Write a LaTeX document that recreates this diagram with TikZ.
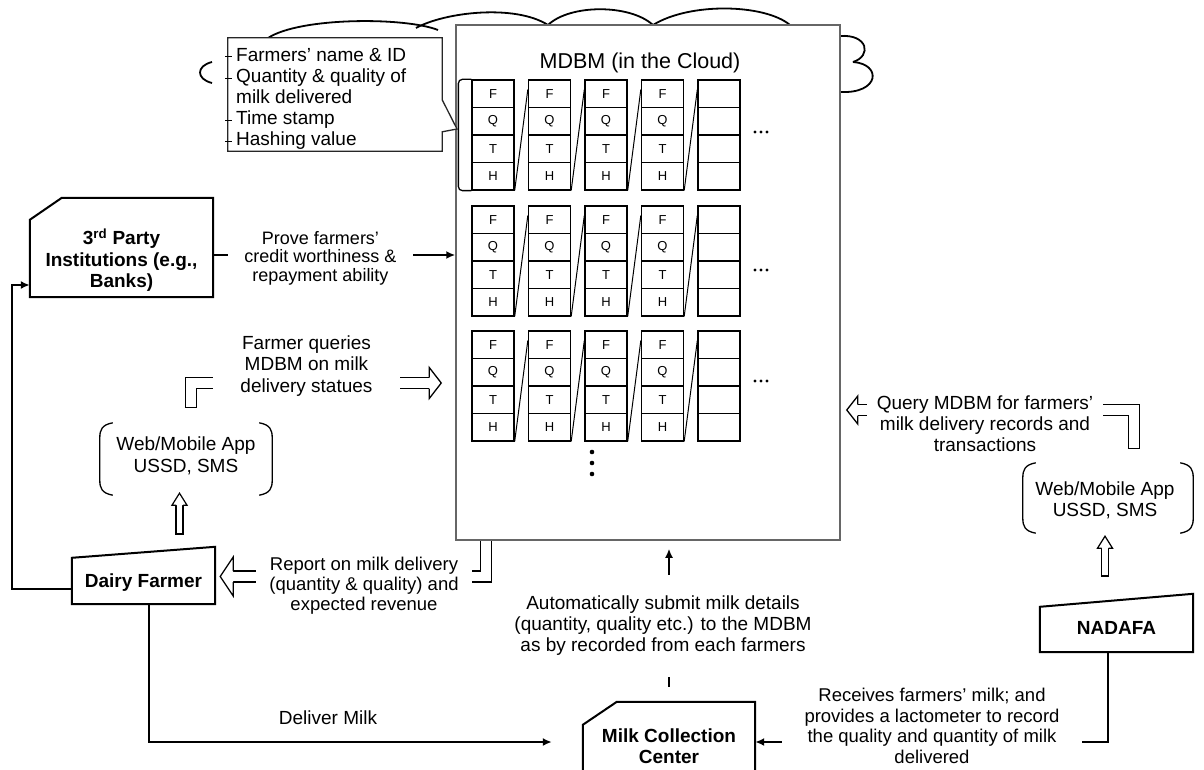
\documentclass[tikz,border=0pt]{standalone}
\usepackage{fontspec}
\setmainfont{Liberation Sans}
\usetikzlibrary{arrows.meta,calc}
\pgfdeclarelayer{back}
\pgfdeclarelayer{mid}
\pgfsetlayers{back,mid,main}
\newcommand\fsz[2]{\fontsize{#1}{#2}\selectfont}
% horizontal block-arrow head: tip, length (+ points left), half width, shaft half
\newcommand\headH[4]{\draw[blk,fill=white] ($(#1)+(#2,-#4)$) -- ($(#1)+(#2,-#3)$) -- (#1) -- ($(#1)+(#2,#3)$) -- ($(#1)+(#2,#4)$);}
% vertical block-arrow head (pointing up)
\newcommand\headV[4]{\draw[line width=1.2,fill=white] ($(#1)+(-#4,#2)$) -- ($(#1)+(-#3,#2)$) -- (#1) -- ($(#1)+(#3,#2)$) -- ($(#1)+(#4,#2)$);}
\begin{document}
\begin{tikzpicture}[x=1pt,y=-1pt,line join=miter,
  box/.style={line width=2,fill=white},
  conn/.style={line width=2},
  tipA/.style={-{Latex[length=9pt,width=8pt]}},
  blk/.style={line width=1.3},
  dbl/.style={blk,double=white,double distance=9.7},
  sdbl/.style={line width=1.2,double=white,double distance=5.8},
  lbl/.style={fill=white,align=center,inner xsep=0,inner ysep=3},
  btxt/.style={align=center,font=\bfseries\fsz{19}{21.5}},
  area/.style={inner sep=0},
  cell/.style={draw,line width=1.3,minimum width=42,minimum height=27.5,inner sep=0,font=\fsz{13}{13}},
  cloudline/.style={line width=1.8}]
\useasboundingbox (0,0) rectangle (1204,770);

% ---------- cloud ----------
\begin{pgfonlayer}{back}
\draw[cloudline] (212,62) .. controls (196,66) and (196,79) .. (212,83);
\draw[cloudline] (268,38) .. controls (300,17) and (405,17) .. (438,30);
\draw[cloudline] (416,28) .. controls (445,12) and (515,4) .. (548,25);
\draw[cloudline] (548,25) .. controls (570,4) and (630,4) .. (653,25);
\draw[cloudline] (653,25) .. controls (690,2) and (765,4) .. (790,25);
\draw[cloudline] (840,36) .. controls (868,34) and (872,56) .. (853,62);
\draw[cloudline] (853,62) .. controls (882,64) and (880,94) .. (840,92);
\end{pgfonlayer}

% ---------- MDBM ----------
\node[draw=black!60,line width=1.5,fill=white,minimum width=384,minimum height=515,inner sep=0] (mdbm) at (648,282.5) {};
\node[font=\fsz{21.5}{24}] (mdbmt) at (640,63) {MDBM (in the Cloud)};

\foreach \g/\gy in {1/80,2/206,3/331}{
  \foreach \c in {1,...,5}{
    \foreach \r/\l in {1/F,2/Q,3/T,4/H}{
      \pgfmathsetmacro\cx{493+56.5*(\c-1)}
      \pgfmathsetmacro\cy{\gy+13.75+27.5*(\r-1)}
      \node[cell] (c\g\c\r) at (\cx,\cy) {\ifnum\c<5 \l\fi};
    }
  }
  \foreach \c [evaluate=\c as \cn using int(\c+1)] in {1,...,4}{
    \draw[line width=1] (c\g\c4.south east) -- ($(c\g\cn1.north west)+(0,10)$);
  }
}
\foreach \yy in {132,270,381}{\foreach \xx in {755,761,767}{\fill (\xx,\yy) circle (1.6);}}
\foreach \yy in {452,463,474}{\fill (592,\yy) circle (2.3);}
\draw[line width=1.3,rounded corners=4] (c111.north west) -- ++(-13,0) |- (c114.south west);

% ---------- callout ----------
\node[area,minimum width=214,minimum height=113] (call) at (335,94.5) {};
\coordinate (callTip) at (457,129);
\draw[line width=1.3,draw=black!85,fill=white] (call.north west) -- (call.north east) -- ($(call.north east)+(0,62)$) -- (callTip) -- ($(call.north east)+(0,94)$) -- (call.south east) -- (call.south west) -- cycle;
\node[anchor=west,align=left,inner sep=0,font=\fsz{19}{21}] (callt) at (236,99) {Farmers' name \& ID\\Quantity \& quality of\\milk delivered\\Time stamp\\Hashing value};
\foreach \yy in {57,79,121,142}{\draw[line width=1] (225,\yy) -- (232,\yy);}

% ---------- boxes ----------
\node[area,minimum width=183,minimum height=99] (tp) at (121.5,247.5) {};
\draw[box] ($(tp.north west)+(0,22)$) -- ($(tp.north west)+(32,0)$) -- (tp.north east) -- (tp.south east) -- (tp.south west) -- cycle;
\node[btxt] (tpt) at ($(tp.center)+(0,13)$) {3\textsuperscript{rd} Party\\Institutions (e.g.,\\Banks)};

\node[area,minimum width=143,minimum height=57] (df) at (143.5,575.5) {};
\draw[box] ($(df.north west)+(0,11)$) -- (df.north east) -- (df.south east) -- (df.south west) -- cycle;
\node[btxt] (dft) at ($(df.center)+(0,7.5)$) {Dairy Farmer};

\node[area,minimum width=172,minimum height=80] (mcc) at (669,742) {};
\draw[box] ($(mcc.north west)+(0,23)$) -- ($(mcc.north west)+(34,0)$) -- (mcc.north east) -- (mcc.south east) -- (mcc.south west) -- cycle;
\node[btxt] (mcct) at ($(mcc.center)+(0,4)$) {Milk Collection\\Center};

\node[area,minimum width=153,minimum height=58] (nad) at (1116.5,623) {};
\draw[box] ($(nad.north west)+(0,13)$) -- (nad.north east) -- (nad.south east) -- (nad.south west) -- cycle;
\node[btxt] (nadt) at ($(nad.center)+(0,5)$) {NADAFA};

% Web/Mobile brackets
\node[area,minimum width=172,minimum height=72] (wm1) at (186,459) {};
\node[area,minimum width=170,minimum height=70] (wm2) at (1108,498) {};
\foreach \w in {wm1,wm2}{
  \draw[line width=1.3] ($(\w.north west)+(13,0)$) .. controls ($(\w.north west)+(2,2)$) and ($(\w.north west)+(0,7)$) .. ($(\w.north west)+(0,15)$) -- ($(\w.south west)+(0,-15)$) .. controls ($(\w.south west)+(0,-7)$) and ($(\w.south west)+(2,-2)$) .. ($(\w.south west)+(13,0)$);
  \draw[line width=1.3] ($(\w.north east)+(-13,0)$) .. controls ($(\w.north east)+(-2,2)$) and ($(\w.north east)+(0,7)$) .. ($(\w.north east)+(0,15)$) -- ($(\w.south east)+(0,-15)$) .. controls ($(\w.south east)+(0,-7)$) and ($(\w.south east)+(-2,-2)$) .. ($(\w.south east)+(-13,0)$);
}
\node[align=center,font=\fsz{19}{21.5}] (wm1t) at ($(wm1.center)+(0,-3)$) {Web/Mobile App\\USSD, SMS};
\node[align=center,font=\fsz{19}{21}] (wm2t) at ($(wm2.center)+(-3,2)$) {Web/Mobile App\\USSD, SMS};

% ---------- labels ----------
\node[lbl,font=\fsz{18}{18.5},minimum width=185] (l1) at (320.5,258) {Prove farmers'\\credit worthiness \&\\repayment ability};
\node[lbl,font=\fsz{19}{21.5},minimum width=187] (l2) at (306.5,366) {Farmer queries\\MDBM on milk\\delivery statues};
\node[lbl,font=\fsz{18.5}{20},minimum width=216] (l3) at (364,586) {Report on milk delivery\\(quantity \& quality) and\\expected revenue};
\node[lbl,font=\fsz{19}{21},minimum height=102,inner xsep=4] (l4) at (663,626) {Automatically submit milk details\\(quantity, quality etc.) to the MDBM\\as by recorded from each farmers};
\node[lbl,font=\fsz{19}{21},minimum width=236] (l5) at (985,424) {Query MDBM for farmers'\\milk delivery records and\\transactions};
\node[lbl,font=\fsz{18.5}{20.5},minimum width=300] (l6) at (932,726) {Receives farmers' milk; and\\provides a lactometer to record\\the quality and quantity of milk\\delivered};
\node[font=\fsz{19}{21}] (l7) at (328,718) {Deliver Milk};

% ---------- connectors ----------
\begin{pgfonlayer}{mid}
\coordinate (tpR) at ($(tp.east)+(0,7.5)$);
\draw[line width=1.8,tipA] (tpR) -- (tpR -| mdbm.west);
\draw[conn,tipA] ($(df.west)+(0,13.5)$) -| ($(tp.west)+(-18,37.5)$) -- ($(tp.west)+(0,37.5)$);
\draw[conn,tipA] ($(df.south)+(5.5,0)$) |- ($(mcc.west)+(-31,0)$);
\draw[conn,tipA] ($(nad.south)+(-8.5,0)$) |- (mcc.east);
\draw[line width=2.5,tipA,shorten <=15pt,shorten >=8pt] (mcc.north) -- (mcc.north |- mdbm.south);

% Farmer queries: wm1 -> MDBM
\coordinate (qS) at ($(wm1.north)+(5,-15.6)$);
\coordinate (qT) at ($(mdbm.west)+(-14,100.5)$);
\coordinate (qB) at ($(qT)+(-12,0)$);
\draw[dbl] (qS) |- (qB);
\draw[blk] ($(qS)+(-6.15,0)$) -- ($(qS)+(6.15,0)$);
\headH{qT}{-12}{15.5}{5.5}

% Report: MDBM -> Dairy Farmer
\coordinate (rS) at ($(mdbm.south west)+(31,0)$);
\coordinate (rT) at ($(df.east)+(5,1)$);
\coordinate (rB) at ($(rT)+(13,0)$);
\draw[dbl] (rS) |- (rB);
\headH{rT}{13}{19.5}{5.5}

% Query: wm2 -> MDBM
\coordinate (yS) at ($(wm2.north)+(26,-14)$);
\coordinate (yT) at ($(mdbm.east)+(6,127.5)$);
\coordinate (yB) at ($(yT)+(11,0)$);
\draw[dbl] (yS) |- (yB);
\draw[blk] ($(yS)+(-6.15,0)$) -- ($(yS)+(6.15,0)$);
\headH{yT}{11}{14}{5.5}

% small up arrows
\coordinate (uS) at (179.5,534);
\coordinate (uT) at ($(wm1.south)+(-6.5,-2)$);
\coordinate (uB) at ($(uT)+(0,12)$);
\draw[sdbl] (uS) -- (uB);
\draw[line width=1.2] ($(uS)+(-4.1,0)$) -- ($(uS)+(4.1,0)$);
\headV{uT}{12}{7.5}{3.5}

\coordinate (vS) at (1105,576);
\coordinate (vT) at ($(wm2.south)+(-3,3)$);
\coordinate (vB) at ($(vT)+(0,12)$);
\draw[sdbl] (vS) -- (vB);
\draw[line width=1.2] ($(vS)+(-4.1,0)$) -- ($(vS)+(4.1,0)$);
\headV{vT}{12}{7.5}{3.5}
\end{pgfonlayer}
\end{tikzpicture}
\end{document}
